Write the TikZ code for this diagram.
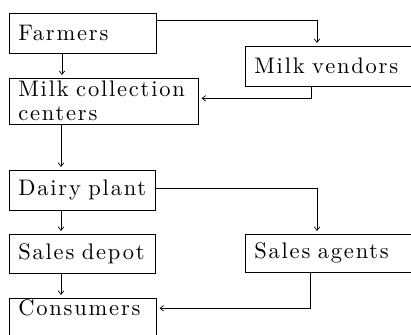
\documentclass[tikz,border=0pt]{standalone}
\usepackage{fontspec}
\usetikzlibrary{arrows.meta}
\newfontfamily\boxfam{lmroman10-regular}[Extension=.otf, LetterSpace=8, WordSpace=1.9]
\newcommand\boxfont{\boxfam\fontsize{22.5}{24}\selectfont}
\begin{document}
\begin{tikzpicture}[x=1pt,y=-1pt,
  box/.style={draw, line width=0.6pt, anchor=north west, inner xsep=9pt, inner ysep=0pt,
              align=left, font=\boxfont,
              append after command={[line width=1.3pt]
                (\tikzlastnode.north west) edge (\tikzlastnode.south west)
                (\tikzlastnode.north east) edge (\tikzlastnode.south east)}},
  conn/.style={line width=0.7pt, -{Straight Barb[length=3.5pt,width=5.5pt]}, shorten >=3pt}]
\useasboundingbox (0,0) rectangle (411,334);
\clip (0,0) rectangle (411,334);
\node[box, text width=129pt, minimum height=40pt] (farm) at (9,13) {Farmers};
\node[box, text width=157pt, minimum height=40pt] (vend) at (245,46) {Milk vendors};
\node[box, text width=171pt, minimum height=46pt] (coll) at (9,78) {Milk collection\\centers};
\node[box, text width=128pt, minimum height=40pt] (dairy) at (9,170) {Dairy plant};
\node[box, text width=128pt, minimum height=39pt] (depot) at (9,234) {Sales depot};
\node[box, text width=157pt, minimum height=38pt] (agent) at (245,234) {Sales agents};
\node[box, text width=129pt, text height=17pt, text depth=25pt] (cons) at (9,298) {Consumers};

\draw[conn] ([xshift=53pt]farm.south west) -- ([xshift=53pt]coll.north west);
\draw[conn] ([yshift=-7pt]farm.north east) -| ([xshift=72pt]vend.north west);
\draw[conn] ([xshift=66pt]vend.south west) |- ([yshift=3pt]coll.east);
\draw[conn] ([xshift=52pt]coll.south west) -- ([xshift=52pt]dairy.north west);
\draw[conn] ([xshift=52pt]dairy.south west) -- ([xshift=52pt]depot.north west);
\draw[conn] ([yshift=2pt]dairy.east) -| ([xshift=72pt]agent.north west);
\draw[conn] ([xshift=52pt]depot.south west) -- ([xshift=52pt]cons.north west);
\draw[conn] ([xshift=65pt]agent.south west) |- ([yshift=11pt]cons.east);
\end{tikzpicture}
\end{document}
